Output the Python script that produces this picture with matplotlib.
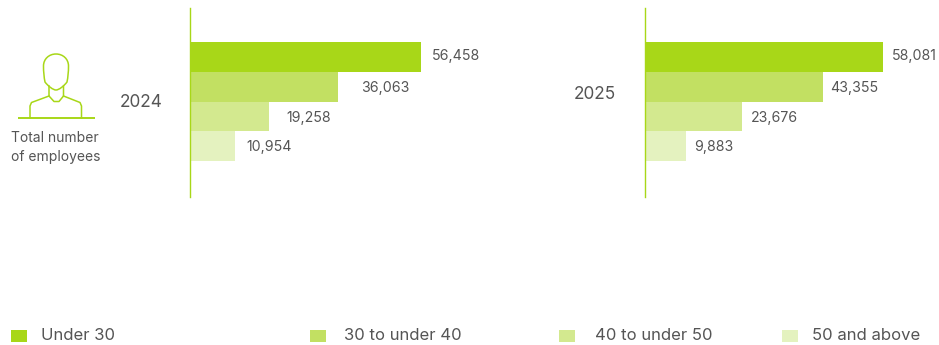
import matplotlib
matplotlib.use("Agg")
import matplotlib.pyplot as plt
from matplotlib.patches import PathPatch, Rectangle
from matplotlib.path import Path

plt.rcParams["font.family"] = ["Inter", "DejaVu Sans"]

# ---- data ----
groups = ["Under 30", "30 to under 40", "40 to under 50", "50 and above"]
values_2024 = [56458, 36063, 19258, 10954]
values_2025 = [58081, 43355, 23676, 9883]
years = ["2024", "2025"]

# ---- palette ----
COLORS = ["#a8d718", "#c2e062", "#d3e98f", "#e4f2bf"]
LINE = "#a8d718"
INK = "#555555"

W, H = 939, 345
PX_PER_UNIT = 0.0041  # shared bar scale for both panels
LABEL_BASE = [60, 92, 122, 151]  # value label baselines, px from top

fig = plt.figure(figsize=(W / 100, H / 100), dpi=100, facecolor="white")

# full-figure overlay in pixel coords for icon, legend and captions
over = fig.add_axes([0, 0, 1, 1], zorder=5)
over.set_xlim(0, W); over.set_ylim(H, 0); over.axis("off")


def panel(x0, values, label_x):
    # axes run from the spine at x0 to the right edge, y from 8px to 197px
    ax = fig.add_axes([x0 / W, 1 - 197 / H, (W - x0) / W, 189 / H])
    ax.set_xlim(0, (W - x0) / PX_PER_UNIT)
    step = 29.75
    ax.set_ylim((197 - 57) / step, (8 - 57) / step)
    ax.barh(range(4), values, height=1.0, color=COLORS, linewidth=0)
    for sp in ("top", "right", "bottom"):
        ax.spines[sp].set_visible(False)
    ax.spines["left"].set_color(LINE)
    ax.spines["left"].set_linewidth(1.0)
    ax.set_xticks([]); ax.set_yticks([])
    ax.patch.set_alpha(0)
    for v, lx, ly in zip(values, label_x, LABEL_BASE):
        over.text(lx, ly, f"{v:,}", ha="left", va="baseline",
                  fontsize=10.2, color=INK)


panel(190, values_2024, [432, 361, 286, 246])
panel(645, values_2025, [892, 830, 751, 694])

over.text(120, 107, years[0], ha="left", va="baseline", fontsize=12.4, color=INK)
over.text(574, 99, years[1], ha="left", va="baseline", fontsize=12.4, color=INK)

over.text(11, 142, "Total number", ha="left", va="baseline", fontsize=10, color=INK)
over.text(11, 161, "of employees", ha="left", va="baseline", fontsize=10, color=INK)

# ---- person icon ----
head = Path(
    [(56, 54), (49, 54), (43.5, 59), (43.5, 66), (43.5, 72), (44, 77), (45, 82),
     (48, 86), (53, 90), (56, 90), (59, 90), (64, 86), (67, 82),
     (68, 77), (68.5, 72), (68.5, 66), (68.5, 59), (63, 54), (56, 54)],
    [Path.MOVETO] + [Path.CURVE4] * 18,
)
over.add_patch(PathPatch(head, fc="none", ec=LINE, lw=1.1))
body = [
    [(49, 86), (49, 96), (54, 101.5), (59, 101.5), (63.5, 96), (63.5, 86)],
    [(49, 96), (31.5, 102.5), (30, 106), (30, 118)],
    [(63.5, 96), (80, 102.5), (81.5, 106), (81.5, 118)],
]
for seg in body:
    over.plot(*zip(*seg), color=LINE, lw=1.1, solid_joinstyle="round")
over.plot([17.5, 95], [118, 118], color=LINE, lw=1.4, solid_capstyle="butt")

# ---- legend row ----
swatch_x = [11, 310, 559, 782]
text_x = [41, 344, 595, 811.5]
for name, color, sx, tx in zip(groups, COLORS, swatch_x, text_x):
    over.add_patch(Rectangle((sx, 330), 16, 12, fc=color, ec="none"))
    over.text(tx, 340, name, ha="left", va="baseline", fontsize=12, color=INK)

fig.savefig("out.png", dpi=100, facecolor="white")
